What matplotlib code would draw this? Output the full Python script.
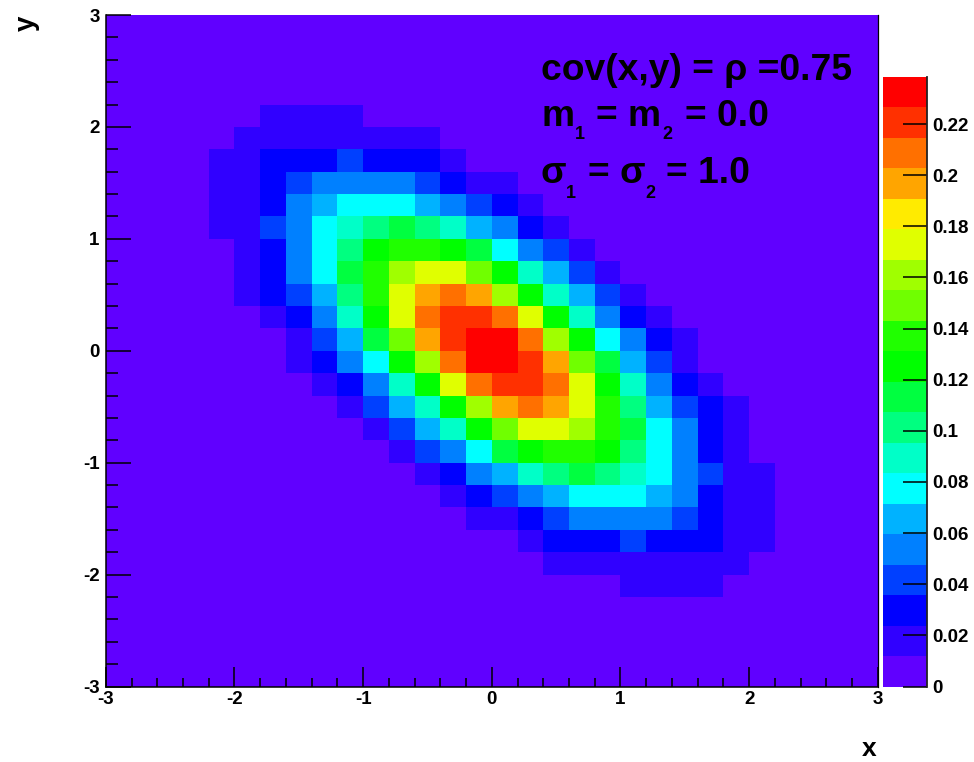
import numpy as np
import matplotlib
matplotlib.use('Agg')
import matplotlib.pyplot as plt
from matplotlib.colors import ListedColormap, BoundaryNorm
from matplotlib.ticker import MultipleLocator

plt.rcParams['font.family'] = ['Liberation Sans', 'DejaVu Sans']
plt.rcParams['font.weight'] = 'bold'

W, H = 974, 762

# bin contents in thousandths, top row of the plot first
# first_col is the first non empty bin of the row
first_row = 4
first_col = [6, 5, 4, 4, 4, 4, 5, 5, 5, 6, 7, 7, 8, 9, 10, 11, 12, 13, 14, 16, 17, 20]
row_values = [
    [18, 18, 18, 18],
    [18, 18, 18, 18, 18, 18, 18, 18],
    [18, 18, 30, 30, 30, 42, 30, 30, 30, 18],
    [18, 18, 30, 42, 54, 54, 54, 54, 42, 30, 18, 18],
    [18, 18, 30, 54, 66, 77, 77, 77, 66, 54, 42, 30, 18],
    [18, 18, 42, 54, 77, 89, 101, 113, 101, 89, 66, 54, 30, 18],
    [18, 30, 54, 77, 101, 125, 137, 137, 125, 113, 77, 54, 42, 18],
    [18, 30, 54, 77, 113, 137, 161, 173, 173, 149, 125, 89, 66, 42, 18],
    [18, 30, 42, 66, 101, 137, 173, 197, 209, 197, 161, 125, 89, 66, 42, 18],
    [18, 30, 54, 89, 125, 173, 209, 221, 221, 209, 173, 125, 89, 54, 30, 18],
    [18, 42, 66, 113, 149, 197, 221, 232, 232, 209, 161, 125, 77, 54, 30, 18],
    [18, 30, 54, 77, 125, 161, 209, 232, 232, 221, 197, 149, 113, 66, 42, 18],
    [18, 30, 54, 89, 125, 173, 209, 221, 221, 209, 173, 125, 89, 54, 30, 18],
    [18, 42, 66, 89, 125, 161, 197, 209, 197, 173, 137, 101, 66, 42, 30, 18],
    [18, 42, 66, 89, 125, 149, 173, 173, 161, 137, 113, 77, 54, 30, 18],
    [18, 42, 54, 77, 113, 125, 137, 137, 125, 101, 77, 54, 30, 18],
    [18, 30, 54, 66, 89, 101, 113, 101, 89, 77, 54, 42, 18, 18],
    [18, 30, 42, 54, 66, 77, 77, 77, 66, 54, 30, 18, 18],
    [18, 18, 30, 42, 54, 54, 54, 54, 42, 30, 18, 18],
    [18, 30, 30, 30, 42, 30, 30, 30, 18, 18],
    [18, 18, 18, 18, 18, 18, 18, 18],
    [18, 18, 18, 18],
]

palette = [
    (96, 0, 255), (48, 0, 255), (0, 0, 255), (0, 64, 255), (0, 128, 255),
    (0, 178, 255), (0, 255, 255), (0, 255, 200), (0, 255, 128), (0, 255, 64),
    (0, 255, 0), (32, 255, 0), (112, 255, 0), (160, 255, 0), (224, 255, 0),
    (255, 235, 0), (255, 165, 0), (255, 112, 0), (255, 48, 0), (255, 0, 0),
]
z_max = 0.2384
z_ticks = [0, 0.02, 0.04, 0.06, 0.08, 0.1, 0.12, 0.14, 0.16, 0.18, 0.2, 0.22]

# fill the 30x30 histogram
z = np.zeros((30, 30))
for n, vals in enumerate(row_values):
    start = first_col[n]
    z[first_row + n, start:start + len(vals)] = np.array(vals) / 1000.0

x_edges = np.linspace(-3, 3, 31)
y_edges = np.linspace(3, -3, 31)


def box(left, top, right, bottom):
    return [left / W, 1 - bottom / H, (right - left) / W, (bottom - top) / H]


def label(x, y, s, size=26.8):
    fig.text(x / W, 1 - y / H, s, fontsize=size, fontweight='bold', va='baseline', ha='left')


fig = plt.figure(figsize=(W / 100, H / 100), dpi=100)
ax = fig.add_axes(box(105.8, 15, 877.8, 686.5))

cmap = ListedColormap([tuple(c / 255 for c in rgb) for rgb in palette])
levels = np.linspace(0, z_max, len(palette) + 1)
norm = BoundaryNorm(levels, cmap.N)
mesh = ax.pcolormesh(x_edges, y_edges, z, cmap=cmap, norm=norm)

ax.set_xlim(-3, 3)
ax.set_ylim(-3, 3)
ax.xaxis.set_minor_locator(MultipleLocator(0.2))
ax.yaxis.set_minor_locator(MultipleLocator(0.2))
ax.set_xticks([-3, -2, -1, 0, 1, 2, 3])
ax.set_xticklabels(['-3', '-2', '-1', '0', '1', '2', '3'])
ax.set_yticks([-3, -2, -1, 0, 1, 2, 3])
ax.set_yticklabels(['-3', '-2', '-1', '0', '1', '2', '3'])
ax.tick_params(axis='x', which='major', direction='in', length=14.4, width=1.1, labelsize=13.5, pad=3.5)
ax.tick_params(axis='x', which='minor', direction='in', length=6.8, width=1.1)
ax.tick_params(axis='y', which='major', direction='in', length=18, width=1.1, labelsize=13.5, pad=4.5)
ax.tick_params(axis='y', which='minor', direction='in', length=8.6, width=1.1)
ax.spines['top'].set_visible(False)
ax.spines['right'].set_linewidth(0.9)
ax.spines['left'].set_linewidth(1.1)
ax.spines['bottom'].set_linewidth(1.1)

# palette on the right
cax = fig.add_axes(box(883, 77, 927, 686.5))
cb = fig.colorbar(mesh, cax=cax, boundaries=levels, ticks=z_ticks, spacing='proportional')
cb.outline.set_visible(False)
cb.ax.set_yticklabels(['%g' % t for t in z_ticks])
cb.ax.minorticks_off()
cb.ax.tick_params(direction='in', length=17.3, width=1.1, labelsize=13.5, pad=3.5)
cb.ax.axvline(1, color='#222222', linewidth=1.3, clip_on=False)

# axis titles
fig.text(869 / W, 1 - 756 / H, 'x', fontsize=19, fontweight='bold', ha='center', va='baseline')
fig.text(26.5 / W, 1 - 23 / H, 'y', fontsize=20, fontweight='bold', rotation=90, ha='center', va='center')

# text inside the plot
label(541, 80, 'cov(x,y) = \u03c1 =0.75')
label(541, 126, 'm')
label(575, 139, '1', 13)
label(596, 126, '= m')
label(662, 139, '2', 13)
label(685, 126, '= 0.0')
label(541, 183, '\u03c3')
label(566, 198, '1', 13)
label(588, 183, '= \u03c3')
label(645, 198, '2', 13)
label(666, 183, '= 1.0')

fig.savefig('out.png', dpi=100)
